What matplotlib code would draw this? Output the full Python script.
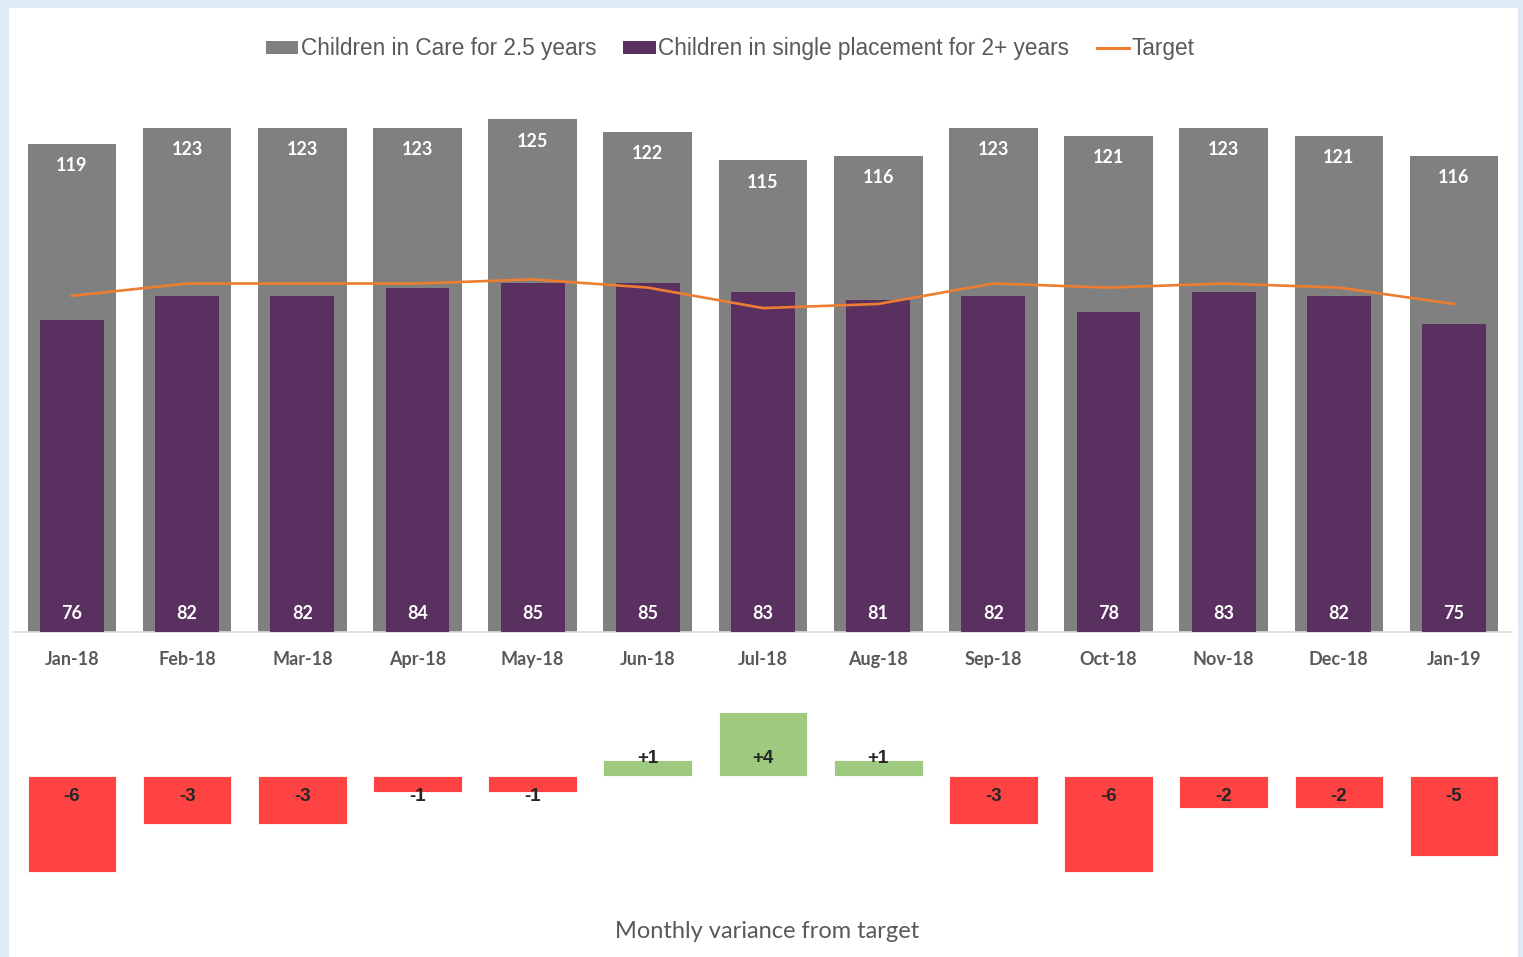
import numpy as np
import matplotlib
matplotlib.use('Agg')
import matplotlib.pyplot as plt
from matplotlib.patches import Rectangle, Patch
from matplotlib.lines import Line2D

months = ['Jan-18', 'Feb-18', 'Mar-18', 'Apr-18', 'May-18', 'Jun-18', 'Jul-18',
          'Aug-18', 'Sep-18', 'Oct-18', 'Nov-18', 'Dec-18', 'Jan-19']
in_care = [119, 123, 123, 123, 125, 122, 115, 116, 123, 121, 123, 121, 116]
single_placement = [76, 82, 82, 84, 85, 85, 83, 81, 82, 78, 83, 82, 75]
target = [82, 85, 85, 85, 86, 84, 79, 80, 85, 84, 85, 84, 80]
variance = [-6, -3, -3, -1, -1, 1, 4, 1, -3, -6, -2, -2, -5]

grey = '#808080'
purple = '#59305f'
orange = '#ed7d31'
green = '#9ec97f'
red = '#ff4343'
txt = '#595959'

W, H = 1523, 957
fig = plt.figure(figsize=(W / 100, H / 100), dpi=100, facecolor='#deeaf6')
fig.patches.append(Rectangle((9 / W, 0), 1509 / W, (H - 8) / H,
                             transform=fig.transFigure, facecolor='white',
                             edgecolor='none', zorder=-1))

x = np.arange(len(months))
left = 14.4 / W
width = (1511.6 - 14.4) / W

# --- top chart
ax = fig.add_axes([left, (H - 632) / H, width, 533 / H])
ax.set_facecolor('none')
ax.bar(x, in_care, width=0.77, color=grey, zorder=2)
ax.bar(x, single_placement, width=0.555, color=purple, zorder=3)
ax.plot(x, target, color=orange, lw=1.9, zorder=4)
ax.set_xlim(-0.5, len(months) - 0.5)
ax.set_ylim(0, 130)
for xi, v in zip(x, in_care):
    ax.annotate(str(v), (xi, v), xytext=(0, -15.5), textcoords='offset points',
                ha='center', va='center', color='white', fontsize=13,
                fontweight='bold', family='Lato', zorder=5)
for xi, v in zip(x, single_placement):
    ax.annotate(str(v), (xi, 0), xytext=(0, 13.5), textcoords='offset points',
                ha='center', va='center', color='white', fontsize=13,
                fontweight='bold', family='Lato', zorder=5)
for s in ['top', 'left', 'right']:
    ax.spines[s].set_visible(False)
ax.spines['bottom'].set_color('#d9d9d9')
ax.spines['bottom'].set_linewidth(1.2)
ax.set_yticks([])
ax.set_xticks(x)
ax.set_xticklabels(months, fontsize=13, fontweight='bold', family='Lato', color=txt)
ax.tick_params(axis='x', length=0, pad=13.5)

handles = [Patch(facecolor=grey), Patch(facecolor=purple),
           Line2D([0], [0], color=orange, lw=2.2)]
fig.legend(handles, ['Children in Care for 2.5 years',
                     'Children in single placement for 2+ years', 'Target'],
           loc='center', bbox_to_anchor=(730 / W, (H - 49) / H), ncol=3,
           frameon=False, prop={'family': 'Liberation Sans', 'size': 16.3},
           labelcolor=txt, handlelength=1.45, handleheight=0.5,
           handletextpad=0.1, columnspacing=1.2)

# --- variance chart
bx = fig.add_axes([left, (H - 888) / H, width, 192 / H])
bx.set_facecolor('none')
cols = [green if v > 0 else red for v in variance]
bx.bar(x, variance, width=0.77, color=cols, edgecolor='white', linewidth=0.6)
bx.set_xlim(-0.5, len(months) - 0.5)
bx.set_ylim(-7, 5)
for xi, v in zip(x, variance):
    lab = '+%d' % v if v > 0 else str(v)
    off = 12.5 if v > 0 else -15
    bx.annotate(lab, (xi, 0), xytext=(0, off), textcoords='offset points',
                ha='center', va='center', color='#262626', fontsize=13.5,
                fontweight='bold', family='Liberation Sans')
bx.axis('off')

fig.text(767 / W, (H - 932) / H, 'Monthly variance from target', ha='center',
         va='center', fontsize=17, color=txt, family='Lato')

fig.savefig('out.png', dpi=100, facecolor=fig.get_facecolor())
